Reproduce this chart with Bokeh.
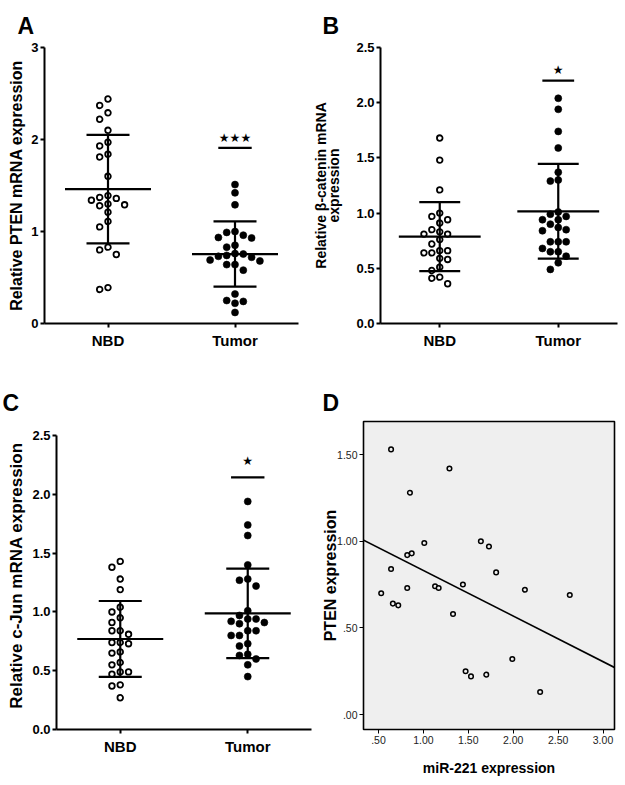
import numpy as np
from bokeh.plotting import figure
from bokeh.layouts import column, row
from bokeh.models import FixedTicker, Range1d, Slope
from bokeh.core.properties import value
from bokeh.embed import file_html
from bokeh.resources import INLINE

# ---------------- data ----------------
groups = ["NBD", "Tumor"]

# Panel A: relative PTEN mRNA expression
pten_nbd = [2.44, 2.37, 2.29, 2.22, 2.10, 1.97, 1.93, 1.84, 1.81, 1.60, 1.39, 1.37,
            1.36, 1.34, 1.30, 1.29, 1.28, 1.21, 1.11, 1.05, 0.83, 0.80, 0.75, 0.39, 0.37]
pten_tumor = [1.51, 1.42, 1.29, 1.00, 0.99, 0.96, 0.935, 0.93, 0.85, 0.83, 0.76, 0.755,
              0.74, 0.73, 0.72, 0.69, 0.68, 0.64, 0.64, 0.58, 0.32, 0.25, 0.24, 0.22, 0.12]
pten_mean = [1.46, 0.755]
pten_sd = [0.59, 0.355]
pten_sig_y = 1.91
pten_star_y = 2.02
pten_star = "★★★"
pten_yticks = [0, 1, 2, 3]
pten_ylabels = ["0", "1", "2", "3"]

# Panel B: relative beta-catenin mRNA expression
bcat_nbd = [1.68, 1.48, 1.21, 1.00, 0.97, 0.94, 0.91, 0.85, 0.83, 0.81, 0.81, 0.76,
            0.72, 0.66, 0.66, 0.64, 0.64, 0.59, 0.58, 0.51, 0.48, 0.42, 0.41, 0.36]
bcat_tumor = [2.04, 1.94, 1.74, 1.59, 1.37, 1.30, 1.29, 1.01, 0.99, 0.97, 0.94, 0.94,
              0.90, 0.87, 0.85, 0.84, 0.74, 0.74, 0.74, 0.68, 0.65, 0.65, 0.61, 0.55, 0.49]
bcat_mean = [0.787, 1.016]
bcat_sd = [0.313, 0.429]
bcat_sig_y = 2.20
bcat_star_y = 2.30
bcat_star = "★"

# Panel C: relative c-Jun mRNA expression
cjun_nbd = [1.43, 1.38, 1.28, 1.19, 1.04, 1.00, 0.95, 0.91, 0.84, 0.84, 0.81, 0.74,
            0.74, 0.73, 0.66, 0.65, 0.57, 0.55, 0.49, 0.49, 0.47, 0.38, 0.37, 0.27]
cjun_tumor = [1.94, 1.74, 1.65, 1.40, 1.28, 1.27, 1.22, 1.01, 0.97, 0.94, 0.94, 0.92,
              0.91, 0.90, 0.84, 0.84, 0.80, 0.80, 0.73, 0.71, 0.64, 0.63, 0.60, 0.55, 0.45]
cjun_mean = [0.77, 0.988]
cjun_sd = [0.323, 0.38]
cjun_sig_y = 2.145
cjun_star_y = 2.28
cjun_star = "★"

bc_yticks = [0.0, 0.5, 1.0, 1.5, 2.0, 2.5]
bc_ylabels = ["0.0", "0.5", "1.0", "1.5", "2.0", "2.5"]

# Panel D: correlation
mir221 = [0.64, 1.29, 0.85, 1.01, 0.82, 0.87, 0.64, 1.64, 1.73, 1.81, 0.53, 0.66, 0.72,
          0.82, 1.13, 1.17, 1.44, 1.33, 2.13, 2.63, 1.99, 1.47, 1.53, 1.70, 2.30]
pten_expr = [1.53, 1.42, 1.28, 0.99, 0.92, 0.93, 0.84, 1.00, 0.97, 0.82, 0.70, 0.64, 0.63,
             0.73, 0.74, 0.73, 0.75, 0.58, 0.72, 0.69, 0.32, 0.25, 0.22, 0.23, 0.13]
fit_intercept = 1.094
fit_slope = -0.263
d_xticks = [0.5, 1.0, 1.5, 2.0, 2.5, 3.0]
d_xlabels = [".50", "1.00", "1.50", "2.00", "2.50", "3.00"]
d_yticks = [0.0, 0.5, 1.0, 1.5]
d_ylabels = [".00", ".50", "1.00", "1.50"]

SANS = "Liberation Sans"


def swarm(vals, px_per_unit, min_gap):
    """column index for each value, so that dots in a column do not overlap"""
    placed = {}
    cols = np.zeros(len(vals))
    cands = [0]
    for k in range(1, 12):
        cands += [-k, k]
    for i, v in enumerate(vals):
        ypx = v * px_per_unit
        for c in cands:
            if all(abs(ypx - yy) >= min_gap for yy in placed.get(c, [])):
                break
        placed.setdefault(c, []).append(ypx)
        cols[i] = c
    return cols


def set_letter(p, text, offset, standoff):
    p.title.text = text
    p.title.align = "left"
    p.title.offset = offset
    p.title.standoff = standoff
    p.title.text_font = SANS
    p.title.text_font_size = "23px"
    p.title.text_font_style = "bold"
    p.title.text_color = "black"


def dot_panel(ylabel, nbd, tumor, means, sds, sig_y, star_y, star_text,
              yticks, ylabels, ytop, ymax, w, h, bl, br, bt, bb,
              ylabel_size, ytick_size, lab_standoff, lab_line_h=1.0):
    p = figure(width=w, height=h, x_range=Range1d(-0.5, 1.5), y_range=Range1d(0, ymax),
               output_backend="svg", toolbar_location=None,
               min_border_left=bl, min_border_right=br, min_border_top=bt, min_border_bottom=bb)
    p.outline_line_color = None
    p.xgrid.visible = False
    p.ygrid.visible = False
    p.background_fill_color = "white"
    p.border_fill_color = "white"

    frame_w = w - bl - br
    frame_h = h - bt - bb
    px_x = frame_w / 2.0
    px_y = frame_h / ymax
    step = 8.3 / px_x

    for i, (vals, filled) in enumerate([(nbd, False), (tumor, True)]):
        cols = swarm(vals, px_y, 7.4)
        xs = i + cols * step
        if filled:
            p.scatter(xs, vals, size=7, fill_color="black", line_color="black", line_width=0.6)
        else:
            p.scatter(xs, vals, size=5.6, fill_color="white", line_color="black", line_width=1.8)

    mh = 43 / px_x
    ch = 21.5 / px_x
    xi = [0, 1]
    p.segment(x0=[x - mh for x in xi], y0=means, x1=[x + mh for x in xi], y1=means,
              line_color="black", line_width=2.2)
    up = [m + s for m, s in zip(means, sds)]
    lo = [m - s for m, s in zip(means, sds)]
    p.segment(x0=xi, y0=lo, x1=xi, y1=up, line_color="black", line_width=2.2)
    p.segment(x0=[x - ch for x in xi] * 2, y0=up + lo, x1=[x + ch for x in xi] * 2, y1=up + lo,
              line_color="black", line_width=2.2)

    sh = 16.7 / px_x
    p.segment(x0=[1 - sh], y0=[sig_y], x1=[1 + sh], y1=[sig_y], line_color="black", line_width=2.2)
    p.text(x=[1], y=[star_y], text=[star_text], text_font=value("DejaVu Sans"),
           text_font_size="12px", text_align="center", text_baseline="middle", text_color="black")

    p.xaxis.ticker = FixedTicker(ticks=[0, 1])
    p.xaxis.major_label_overrides = {0: groups[0], 1: groups[1]}
    p.yaxis.ticker = FixedTicker(ticks=yticks)
    p.yaxis.major_label_overrides = {t: l for t, l in zip(yticks, ylabels)}
    p.yaxis.bounds = (0, ytop)
    for ax in (p.xaxis[0], p.yaxis[0]):
        ax.axis_line_width = 2
        ax.axis_line_color = "black"
        ax.major_tick_line_width = 2
        ax.major_tick_line_color = "black"
        ax.major_tick_out = 4
        ax.major_tick_in = 0
        ax.minor_tick_line_color = None
        ax.major_label_text_font = SANS
        ax.major_label_text_font_style = "bold"
        ax.major_label_text_color = "black"
    p.xaxis.major_label_text_font_size = "15px"
    p.xaxis.major_label_standoff = 4
    p.yaxis.major_label_text_font_size = ytick_size
    p.yaxis.major_label_standoff = 2
    p.yaxis.axis_label = ylabel
    p.yaxis.axis_label_text_font = SANS
    p.yaxis.axis_label_text_font_style = "bold"
    p.yaxis.axis_label_text_font_size = ylabel_size
    p.yaxis.axis_label_text_color = "black"
    p.yaxis.axis_label_standoff = lab_standoff
    p.yaxis.axis_label_text_line_height = lab_line_h
    return p


# Row 1 (A, B): same vertical borders
H1, BT1, BB1 = 378, 47, 55
pA = dot_panel("Relative PTEN mRNA expression", pten_nbd, pten_tumor, pten_mean, pten_sd,
               pten_sig_y, pten_star_y, pten_star, pten_yticks, pten_ylabels, 3, 3,
               309, H1, 44, 11, BT1, BB1, "16px", "13px", 3)
set_letter(pA, "A", -27, 17)

pB = dot_panel("Relative β-catenin mRNA\nexpression", bcat_nbd, bcat_tumor, bcat_mean, bcat_sd,
               bcat_sig_y, bcat_star_y, bcat_star, bc_yticks, bc_ylabels, 2.5, 2.5,
               309, H1, 59, 1, BT1, BB1, "14px", "13px", 11, 0.85)
set_letter(pB, "B", -58, 17)

# Row 2 (C, D): same vertical borders
H2, BT2, BB2 = 400, 43, 49
pC = dot_panel("Relative c-Jun mRNA expression", cjun_nbd, cjun_tumor, cjun_mean, cjun_sd,
               cjun_sig_y, cjun_star_y, cjun_star, bc_yticks, bc_ylabels, 2.5, 2.62,
               312, H2, 56, 1, BT2, BB2, "17px", "13px", 3)
set_letter(pC, "C", -54, 12)

# Panel D
pD = figure(width=305, height=H2, x_range=Range1d(0.333, 3.128), y_range=Range1d(-0.0865, 1.691),
            output_backend="svg", toolbar_location=None,
            min_border_left=51, min_border_right=3, min_border_top=BT2, min_border_bottom=BB2)
pD.xgrid.visible = False
pD.ygrid.visible = False
pD.background_fill_color = "#efefef"
pD.border_fill_color = "white"
pD.outline_line_color = "black"
pD.outline_line_width = 1.6
pD.scatter(mir221, pten_expr, size=4.6, fill_color="#efefef", line_color="black", line_width=1.5)
pD.add_layout(Slope(gradient=fit_slope, y_intercept=fit_intercept, line_color="black", line_width=1.6))
pD.xaxis.ticker = FixedTicker(ticks=d_xticks)
pD.xaxis.major_label_overrides = {t: l for t, l in zip(d_xticks, d_xlabels)}
pD.yaxis.ticker = FixedTicker(ticks=d_yticks)
pD.yaxis.major_label_overrides = {t: l for t, l in zip(d_yticks, d_ylabels)}
for ax in (pD.xaxis[0], pD.yaxis[0]):
    ax.axis_line_color = None
    ax.major_tick_line_color = "black"
    ax.major_tick_line_width = 1
    ax.major_tick_out = 4
    ax.major_tick_in = 0
    ax.minor_tick_line_color = None
    ax.major_label_text_font = SANS
    ax.major_label_text_font_size = "10.5px"
    ax.major_label_text_color = "#222222"
    ax.major_label_standoff = 2
    ax.axis_label_text_font = SANS
    ax.axis_label_text_font_style = "bold"
    ax.axis_label_text_color = "black"
pD.xaxis.axis_label = "miR-221 expression"
pD.xaxis.axis_label_text_font_size = "14px"
pD.xaxis.axis_label_standoff = 13
pD.yaxis.axis_label = "PTEN expression"
pD.yaxis.axis_label_text_font_size = "16px"
pD.yaxis.axis_label_standoff = -5
set_letter(pD, "D", -41, 12)

layout = column(row(pA, pB), row(pC, pD))
open("out.html", "w").write(file_html(layout, INLINE))
